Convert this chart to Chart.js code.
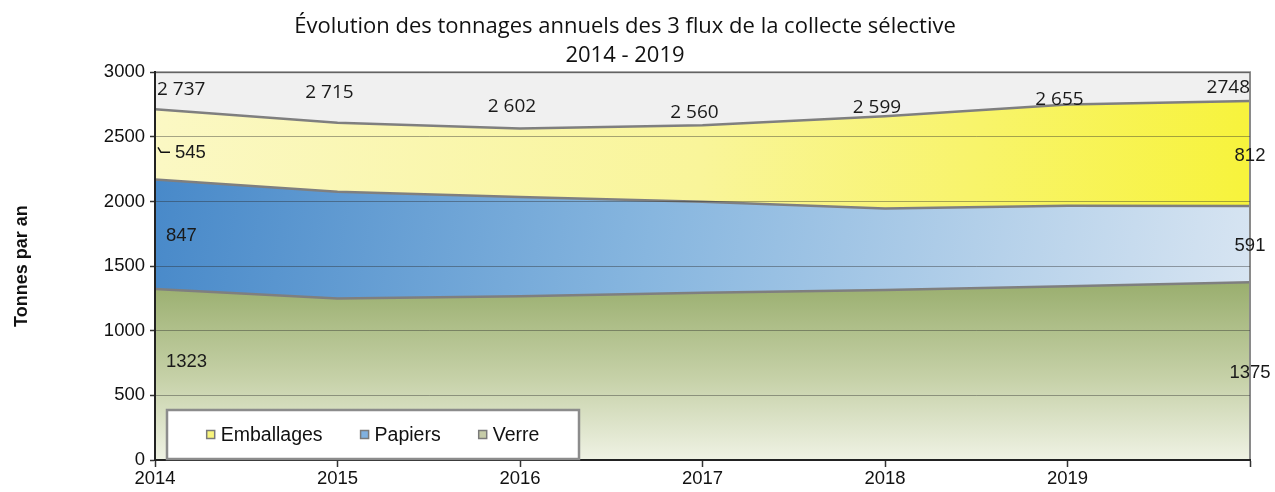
<!DOCTYPE html>
<html><head><meta charset="utf-8">
<script src="https://cdn.jsdelivr.net/npm/chart.js@4.4.1/dist/chart.umd.min.js"></script>
<style>html,body{margin:0;padding:0;background:#fff;overflow:hidden}#wrap{width:1275px;height:492px}</style>
</head><body><div id="wrap"><canvas id="c" width="1275" height="492"></canvas></div>
<script>
const years = ['2014','2015','2016','2017','2018','2019',''];
const verre = [1323,1250,1268,1295,1315,1345,1375];
const papiers = [847,825,768,703,631,622,591];
const emballages = [545,534,529,593,714,784,812];
const totalValues = [2737,2715,2602,2560,2599,2655,2748];
const totalLabels = ['2 737','2 715','2 602','2 560','2 599','2 655','2748'];
const titleLines = ['Évolution des tonnages annuels des 3 flux de la collecte sélective','2014 - 2019'];
const yTitle = 'Tonnes par an';
const legendOrder = ['Emballages','Papiers','Verre'];

const SANS = 'Liberation Sans, Arial, sans-serif';
const CAL = 'Open Sans, sans-serif';

function gradEmb(ctx){
  const a = ctx.chart.chartArea; if(!a) return '#f9f591';
  const g = ctx.chart.ctx.createLinearGradient(a.left, a.top, a.right, a.top + 60);
  g.addColorStop(0,'#fbf8c4'); g.addColorStop(0.5,'#f9f59a'); g.addColorStop(1,'#f7f33c');
  return g;
}
function gradPap(ctx){
  const a = ctx.chart.chartArea; if(!a) return '#86b5df';
  const g = ctx.chart.ctx.createLinearGradient(a.left, a.top + 100, a.right, a.top + 260);
  g.addColorStop(0,'#4889c9'); g.addColorStop(0.45,'#87b6df'); g.addColorStop(1,'#d8e5f2');
  return g;
}
function gradVer(ctx){
  const a = ctx.chart.chartArea; if(!a) return '#c5cfa2';
  const ys = ctx.chart.scales.y;
  const g = ctx.chart.ctx.createLinearGradient(0, ys.getPixelForValue(1400), 0, a.bottom);
  g.addColorStop(0,'#98ad6c'); g.addColorStop(0.55,'#c6d1a8'); g.addColorStop(1,'#eff2e4');
  return g;
}
const swatch = {Emballages:'#f8f47c', Papiers:'#80b1e0', Verre:'#c6cca8'};

const decor = {
  id:'decor',
  beforeDraw(chart){
    const {ctx, chartArea:a} = chart;
    ctx.save(); ctx.fillStyle = '#f0f0f0';
    ctx.fillRect(a.left, a.top, a.right - a.left, a.bottom - a.top);
    ctx.restore();
  },
  afterDatasetsDraw(chart){
    const {ctx, chartArea:a} = chart;
    const ys = chart.scales.y;
    ctx.save();
    ctx.strokeStyle = '#8a8a8a'; ctx.lineWidth = 2;
    ctx.beginPath(); ctx.moveTo(a.left, a.top); ctx.lineTo(a.right, a.top); ctx.lineTo(a.right, a.bottom); ctx.stroke();

    const mt = chart.getDatasetMeta(3);
    ctx.font = '19px ' + CAL; ctx.fillStyle = '#1a1a1a'; ctx.textBaseline = 'middle'; ctx.textAlign = 'center';
    mt.data.forEach((p, i) => {
      const t = totalLabels[i];
      const w = ctx.measureText(t).width;
      let x = p.x - 8;
      if (x - w/2 < a.left + 2) x = a.left + 2 + w/2;
      if (x + w/2 > a.right) x = a.right - w/2;
      ctx.fillText(t, x, p.y - 17);
    });

    ctx.font = '18.5px ' + SANS;
    const n = years.length - 1;
    [0,1,2].forEach(di => {
      const m = chart.getDatasetMeta(di);
      const ds = chart.data.datasets[di];
      [0, n].forEach(i => {
        const top = m.data[i].y;
        const st = chart.data.datasets.slice(0, di).reduce((s, d) => s + d.data[i], 0);
        const yb = ys.getPixelForValue(st);
        const ym = (top + yb) / 2;
        const txt = String(ds.data[i]);
        if (i === 0) {
          ctx.textAlign = 'left';
          let yy = ym + 2, xx = m.data[i].x + 11;
          if (di === 2) {
            yy = ym + 9; xx = m.data[i].x + 20;
            ctx.strokeStyle = '#111'; ctx.lineWidth = 1.5;
            ctx.beginPath(); ctx.moveTo(m.data[i].x + 3, yy - 6); ctx.lineTo(m.data[i].x + 6, yy - 1); ctx.lineTo(m.data[i].x + 15, yy - 1); ctx.stroke();
          }
          if (di === 0) yy = ym - 13;
          ctx.fillText(txt, xx, yy);
        } else {
          ctx.textAlign = 'center';
          ctx.fillText(txt, m.data[i].x, ym + 2);
        }
      });
    });
    ctx.restore();
  },
  afterDraw(chart){
    const {ctx, chartArea:a} = chart;
    ctx.save();
    const bx = a.left + 12, bw = 412, bh = 49, by = a.bottom - bh - 1;
    ctx.fillStyle = '#ffffff'; ctx.fillRect(bx, by, bw, bh);
    ctx.strokeStyle = '#8c8c8c'; ctx.lineWidth = 2.5; ctx.strokeRect(bx, by, bw, bh);
    ctx.font = '19.5px ' + SANS; ctx.textBaseline = 'middle'; ctx.textAlign = 'left';
    const sw = 8, g1 = 6, g2 = 38;
    const widths = legendOrder.map(l => ctx.measureText(l).width);
    const total = widths.reduce((s, w) => s + w + sw + g1, 0) + g2 * (legendOrder.length - 1);
    let x = bx + (bw - total) / 2;
    const cy = by + bh / 2;
    legendOrder.forEach((l, k) => {
      ctx.fillStyle = swatch[l]; ctx.fillRect(x, cy - sw/2, sw, sw);
      ctx.strokeStyle = '#7a7a7a'; ctx.lineWidth = 1.5; ctx.strokeRect(x, cy - sw/2, sw, sw);
      ctx.fillStyle = '#111'; ctx.fillText(l, x + sw + g1, cy + 1);
      x += sw + g1 + widths[k] + g2;
    });
    ctx.restore();
  }
};

new Chart(document.getElementById('c'), {
  type: 'line',
  data: {
    labels: years,
    datasets: [
      {label:'Verre', data: verre, fill:'origin', backgroundColor: gradVer, borderColor:'#7f7f7f', borderWidth:2.5, pointRadius:0, tension:0},
      {label:'Papiers', data: papiers, fill:'-1', backgroundColor: gradPap, borderColor:'#7f7f7f', borderWidth:2.5, pointRadius:0, tension:0},
      {label:'Emballages', data: emballages, fill:'-1', backgroundColor: gradEmb, borderColor:'#7f7f7f', borderWidth:2.5, pointRadius:0, tension:0},
      {label:'Total', data: totalValues, stack:'tot', showLine:false, fill:false, pointRadius:0, borderWidth:0}
    ]
  },
  options: {
    responsive:false, animation:false,
    layout:{padding:{left:0, right:25, top:0, bottom:0}},
    plugins:{
      legend:{display:false}, tooltip:{enabled:false},
      title:{display:true, text:titleLines, color:'#111', font:{family:CAL, size:22, weight:'normal', lineHeight:1.28}, padding:{top:13, bottom:3}}
    },
    scales:{
      x:{
        offset:false,
        grid:{drawOnChartArea:false, drawTicks:true, tickLength:7, tickColor:'#333', tickWidth:1.5},
        border:{color:'#222', width:2, z:2},
        ticks:{font:{family:SANS, size:18.5}, color:'#111', padding:1, maxRotation:0, autoSkip:false},
        afterFit: s => { s.height = 32; }
      },
      y:{
        stacked:true, min:0, max:3000,
        ticks:{stepSize:500, font:{family:SANS, size:18.5}, color:'#111', padding:5, callback: v => String(v)},
        grid:{color:'rgba(40,40,40,0.4)', lineWidth:1, z:1, tickLength:5, tickColor:'#333', tickWidth:1.5},
        border:{color:'#222', width:2, z:2},
        title:{display:true, text:yTitle, color:'#111', font:{family:SANS, size:18, weight:'bold'}, padding:{top:11, bottom:0}},
        afterFit: s => { s.width = 155; }
      }
    }
  },
  plugins:[decor]
});
</script></body></html>
